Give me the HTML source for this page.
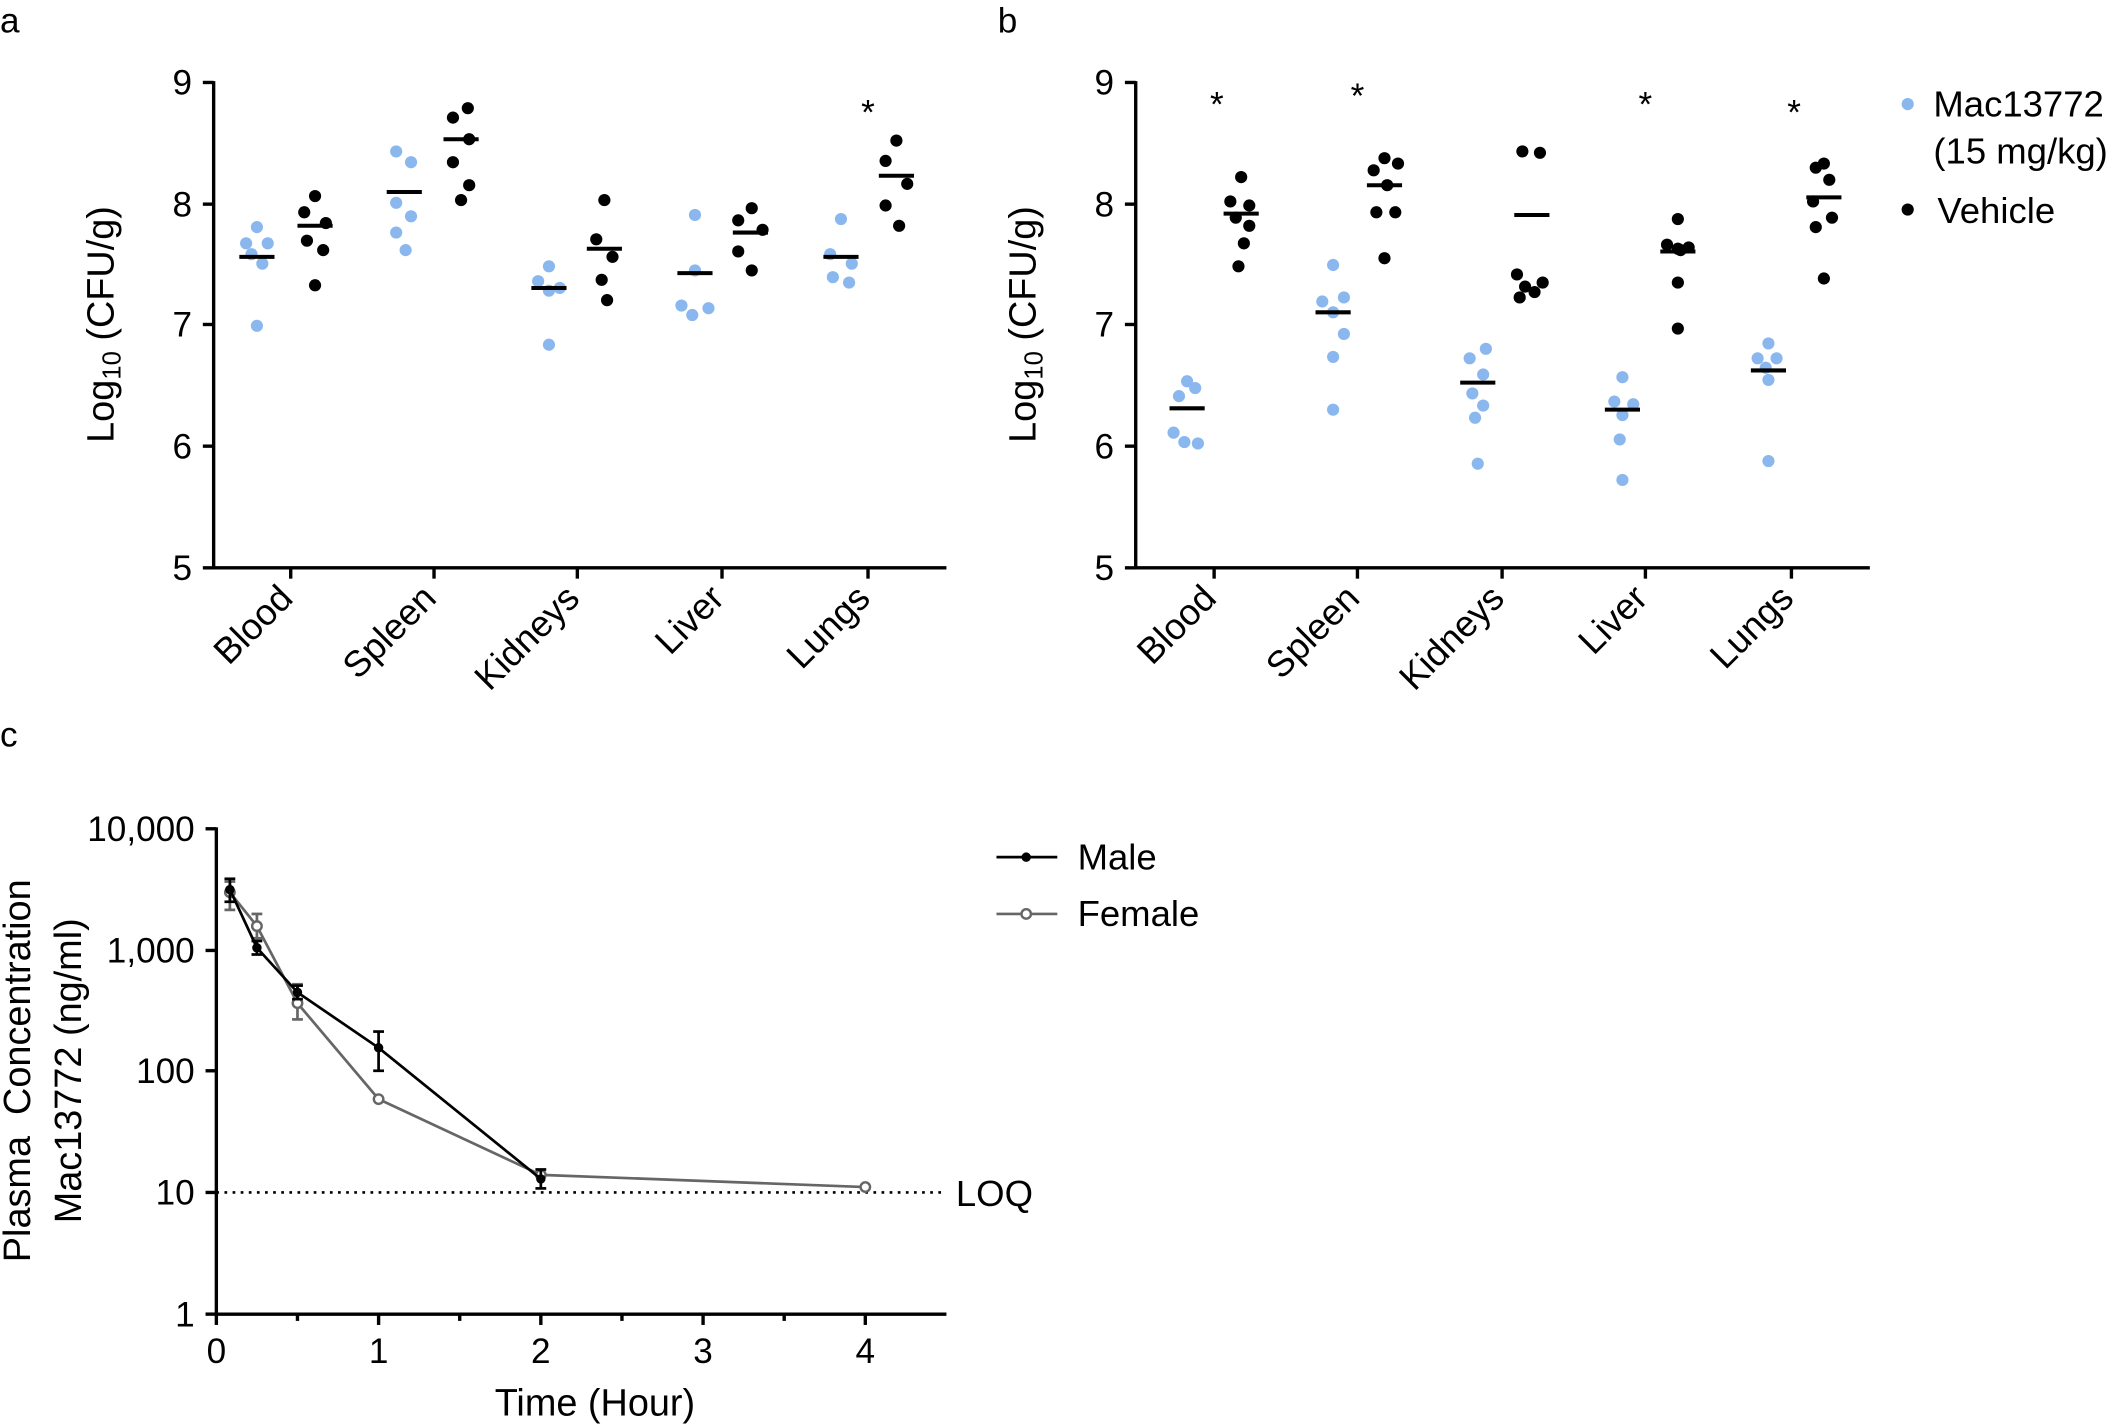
<!DOCTYPE html>
<html><head><meta charset="utf-8"><style>
html,body{margin:0;padding:0;background:#fff}
svg{display:block}
text{font-family:"Liberation Sans",Arial,sans-serif;fill:#000}
</style></head><body>
<svg width="2120" height="1425" viewBox="0 0 1568 1054" xmlns="http://www.w3.org/2000/svg">
<g id="a">
<text x="0" y="24" font-size="26">a</text>
<g stroke="#000" stroke-width="2.5" fill="none">
<line x1="158" y1="60" x2="158" y2="421"/>
<line x1="157" y1="420" x2="700" y2="420"/>
<line x1="150" y1="61" x2="158" y2="61"/><line x1="150" y1="151" x2="158" y2="151"/><line x1="150" y1="240" x2="158" y2="240"/><line x1="150" y1="330" x2="158" y2="330"/><line x1="150" y1="420" x2="158" y2="420"/>
<line x1="215" y1="420" x2="215" y2="428"/><line x1="321" y1="420" x2="321" y2="428"/><line x1="427" y1="420" x2="427" y2="428"/><line x1="534" y1="420" x2="534" y2="428"/><line x1="642" y1="420" x2="642" y2="428"/>
</g>
<g font-size="26" text-anchor="end">
<text x="142" y="70">9</text><text x="142" y="160">8</text><text x="142" y="249">7</text><text x="142" y="339">6</text><text x="142" y="429">5</text>
</g>
<text transform="translate(84,240) rotate(-90)" font-size="28" text-anchor="middle">Log<tspan font-size="19" dy="5">10</tspan><tspan dy="-5"> (CFU/g)</tspan></text>
<g font-size="27" text-anchor="end">
<text transform="translate(218,444) rotate(-45)">Blood</text>
<text transform="translate(324,444) rotate(-45)">Spleen</text>
<text transform="translate(430,444) rotate(-45)">Kidneys</text>
<text transform="translate(537,444) rotate(-45)">Liver</text>
<text transform="translate(645,444) rotate(-45)">Lungs</text>
</g>
<text x="642" y="92" font-size="26" text-anchor="middle">*</text>
<g fill="#8ab8ee">
<circle cx="190" cy="168" r="4.5"/><circle cx="182" cy="180" r="4.5"/><circle cx="198" cy="180" r="4.5"/><circle cx="186" cy="188" r="4.5"/><circle cx="194" cy="195" r="4.5"/><circle cx="190" cy="241" r="4.5"/>
<circle cx="293" cy="112" r="4.5"/><circle cx="304" cy="120" r="4.5"/><circle cx="293" cy="150" r="4.5"/><circle cx="304" cy="160" r="4.5"/><circle cx="293" cy="172" r="4.5"/><circle cx="300" cy="185" r="4.5"/>
<circle cx="406" cy="197" r="4.5"/><circle cx="398" cy="208" r="4.5"/><circle cx="414" cy="213" r="4.5"/><circle cx="406" cy="215" r="4.5"/><circle cx="406" cy="255" r="4.5"/>
<circle cx="514" cy="159" r="4.5"/><circle cx="514" cy="200" r="4.5"/><circle cx="504" cy="226" r="4.5"/><circle cx="524" cy="228" r="4.5"/><circle cx="512" cy="233" r="4.5"/>
<circle cx="622" cy="162" r="4.5"/><circle cx="614" cy="188" r="4.5"/><circle cx="630" cy="195" r="4.5"/><circle cx="616" cy="205" r="4.5"/><circle cx="628" cy="209" r="4.5"/>
</g>
<g fill="#000">
<circle cx="233" cy="145" r="4.5"/><circle cx="225" cy="157" r="4.5"/><circle cx="241" cy="165" r="4.5"/><circle cx="227" cy="178" r="4.5"/><circle cx="239" cy="185" r="4.5"/><circle cx="233" cy="211" r="4.5"/>
<circle cx="346" cy="80" r="4.5"/><circle cx="335" cy="87" r="4.5"/><circle cx="347" cy="103" r="4.5"/><circle cx="335" cy="120" r="4.5"/><circle cx="347" cy="137" r="4.5"/><circle cx="341" cy="148" r="4.5"/>
<circle cx="447" cy="148" r="4.5"/><circle cx="441" cy="177" r="4.5"/><circle cx="453" cy="190" r="4.5"/><circle cx="445" cy="207" r="4.5"/><circle cx="449" cy="222" r="4.5"/>
<circle cx="556" cy="154" r="4.5"/><circle cx="546" cy="163" r="4.5"/><circle cx="564" cy="170" r="4.5"/><circle cx="546" cy="186" r="4.5"/><circle cx="556" cy="200" r="4.5"/>
<circle cx="663" cy="104" r="4.5"/><circle cx="655" cy="119" r="4.5"/><circle cx="671" cy="136" r="4.5"/><circle cx="655" cy="152" r="4.5"/><circle cx="665" cy="167" r="4.5"/>
</g>
<g stroke="#000" stroke-width="3">
<line x1="177" y1="190" x2="203" y2="190"/><line x1="220" y1="167" x2="246" y2="167"/>
<line x1="286" y1="142" x2="312" y2="142"/><line x1="328" y1="103" x2="354" y2="103"/>
<line x1="393" y1="213" x2="419" y2="213"/><line x1="434" y1="184" x2="460" y2="184"/>
<line x1="501" y1="202" x2="527" y2="202"/><line x1="542" y1="172" x2="568" y2="172"/>
<line x1="609" y1="190" x2="635" y2="190"/><line x1="650" y1="130" x2="676" y2="130"/>
</g>
</g>

<g id="b">
<text x="738" y="24" font-size="26">b</text>
<g stroke="#000" stroke-width="2.5" fill="none">
<line x1="840" y1="60" x2="840" y2="421"/>
<line x1="839" y1="420" x2="1383" y2="420"/>
<line x1="832" y1="61" x2="840" y2="61"/><line x1="832" y1="151" x2="840" y2="151"/><line x1="832" y1="240" x2="840" y2="240"/><line x1="832" y1="330" x2="840" y2="330"/><line x1="832" y1="420" x2="840" y2="420"/>
<line x1="898" y1="420" x2="898" y2="428"/><line x1="1004" y1="420" x2="1004" y2="428"/><line x1="1111" y1="420" x2="1111" y2="428"/><line x1="1217" y1="420" x2="1217" y2="428"/><line x1="1325" y1="420" x2="1325" y2="428"/>
</g>
<g font-size="26" text-anchor="end">
<text x="824" y="70">9</text><text x="824" y="160">8</text><text x="824" y="249">7</text><text x="824" y="339">6</text><text x="824" y="429">5</text>
</g>
<text transform="translate(766,240) rotate(-90)" font-size="28" text-anchor="middle">Log<tspan font-size="19" dy="5">10</tspan><tspan dy="-5"> (CFU/g)</tspan></text>
<g font-size="27" text-anchor="end">
<text transform="translate(901,444) rotate(-45)">Blood</text>
<text transform="translate(1007,444) rotate(-45)">Spleen</text>
<text transform="translate(1114,444) rotate(-45)">Kidneys</text>
<text transform="translate(1220,444) rotate(-45)">Liver</text>
<text transform="translate(1328,444) rotate(-45)">Lungs</text>
</g>
<g font-size="26" text-anchor="middle">
<text x="900" y="86">*</text><text x="1004" y="80">*</text><text x="1217" y="86">*</text><text x="1327" y="92">*</text>
</g>
<g fill="#8ab8ee">
<circle cx="878" cy="282" r="4.5"/><circle cx="884" cy="287" r="4.5"/><circle cx="872" cy="293" r="4.5"/><circle cx="868" cy="320" r="4.5"/><circle cx="876" cy="327" r="4.5"/><circle cx="886" cy="328" r="4.5"/>
<circle cx="986" cy="196" r="4.5"/><circle cx="994" cy="220" r="4.5"/><circle cx="978" cy="223" r="4.5"/><circle cx="986" cy="231" r="4.5"/><circle cx="994" cy="247" r="4.5"/><circle cx="986" cy="264" r="4.5"/><circle cx="986" cy="303" r="4.5"/>
<circle cx="1099" cy="258" r="4.5"/><circle cx="1087" cy="265" r="4.5"/><circle cx="1097" cy="277" r="4.5"/><circle cx="1089" cy="291" r="4.5"/><circle cx="1097" cy="300" r="4.5"/><circle cx="1091" cy="309" r="4.5"/><circle cx="1093" cy="343" r="4.5"/>
<circle cx="1200" cy="279" r="4.5"/><circle cx="1194" cy="297" r="4.5"/><circle cx="1208" cy="299" r="4.5"/><circle cx="1200" cy="307" r="4.5"/><circle cx="1198" cy="325" r="4.5"/><circle cx="1200" cy="355" r="4.5"/>
<circle cx="1308" cy="254" r="4.5"/><circle cx="1300" cy="265" r="4.5"/><circle cx="1314" cy="265" r="4.5"/><circle cx="1306" cy="272" r="4.5"/><circle cx="1308" cy="281" r="4.5"/><circle cx="1308" cy="341" r="4.5"/>
</g>
<g fill="#000">
<circle cx="918" cy="131" r="4.5"/><circle cx="910" cy="149" r="4.5"/><circle cx="924" cy="152" r="4.5"/><circle cx="914" cy="161" r="4.5"/><circle cx="924" cy="167" r="4.5"/><circle cx="920" cy="180" r="4.5"/><circle cx="916" cy="197" r="4.5"/>
<circle cx="1024" cy="117" r="4.5"/><circle cx="1034" cy="121" r="4.5"/><circle cx="1016" cy="126" r="4.5"/><circle cx="1026" cy="137" r="4.5"/><circle cx="1018" cy="157" r="4.5"/><circle cx="1032" cy="157" r="4.5"/><circle cx="1024" cy="191" r="4.5"/>
<circle cx="1126" cy="112" r="4.5"/><circle cx="1139" cy="113" r="4.5"/><circle cx="1122" cy="203" r="4.5"/><circle cx="1141" cy="209" r="4.5"/><circle cx="1128" cy="212" r="4.5"/><circle cx="1135" cy="216" r="4.5"/><circle cx="1124" cy="220" r="4.5"/>
<circle cx="1241" cy="162" r="4.5"/><circle cx="1233" cy="181" r="4.5"/><circle cx="1249" cy="183" r="4.5"/><circle cx="1241" cy="184" r="4.5"/><circle cx="1243" cy="185" r="4.5"/><circle cx="1241" cy="209" r="4.5"/><circle cx="1241" cy="243" r="4.5"/>
<circle cx="1349" cy="121" r="4.5"/><circle cx="1343" cy="124" r="4.5"/><circle cx="1353" cy="133" r="4.5"/><circle cx="1341" cy="149" r="4.5"/><circle cx="1355" cy="161" r="4.5"/><circle cx="1343" cy="168" r="4.5"/><circle cx="1349" cy="206" r="4.5"/>
</g>
<g stroke="#000" stroke-width="3">
<line x1="865" y1="302" x2="891" y2="302"/><line x1="905" y1="158" x2="931" y2="158"/>
<line x1="973" y1="231" x2="999" y2="231"/><line x1="1011" y1="137" x2="1037" y2="137"/>
<line x1="1080" y1="283" x2="1106" y2="283"/><line x1="1120" y1="159" x2="1146" y2="159"/>
<line x1="1187" y1="303" x2="1213" y2="303"/><line x1="1228" y1="186" x2="1254" y2="186"/>
<line x1="1295" y1="274" x2="1321" y2="274"/><line x1="1336" y1="146" x2="1362" y2="146"/>
</g>
<circle cx="1411" cy="77" r="4.5" fill="#8ab8ee"/>
<text x="1430" y="86" font-size="27">Mac13772</text>
<text x="1430" y="121" font-size="27">(15 mg/kg)</text>
<circle cx="1411" cy="155" r="4.5" fill="#000"/>
<text x="1433" y="165" font-size="27">Vehicle</text>
</g>

<g id="c">
<text x="0" y="552" font-size="26">c</text>
<g stroke="#000" stroke-width="2.5" fill="none">
<line x1="160" y1="612" x2="160" y2="973"/>
<line x1="159" y1="972" x2="700" y2="972"/>
<line x1="152" y1="613" x2="160" y2="613"/><line x1="152" y1="703" x2="160" y2="703"/><line x1="152" y1="792" x2="160" y2="792"/><line x1="152" y1="882" x2="160" y2="882"/><line x1="152" y1="972" x2="160" y2="972"/>
<line x1="160" y1="972" x2="160" y2="980"/><line x1="280" y1="972" x2="280" y2="980"/><line x1="400" y1="972" x2="400" y2="980"/><line x1="520" y1="972" x2="520" y2="980"/><line x1="640" y1="972" x2="640" y2="980"/>
<line x1="220" y1="972" x2="220" y2="977"/><line x1="340" y1="972" x2="340" y2="977"/><line x1="460" y1="972" x2="460" y2="977"/><line x1="580" y1="972" x2="580" y2="977"/>
</g>
<g font-size="26" text-anchor="end">
<text x="144" y="622">10,000</text><text x="144" y="712">1,000</text><text x="144" y="801">100</text><text x="144" y="891">10</text><text x="144" y="981">1</text>
</g>
<g font-size="26" text-anchor="middle">
<text x="160" y="1008">0</text><text x="280" y="1008">1</text><text x="400" y="1008">2</text><text x="520" y="1008">3</text><text x="640" y="1008">4</text>
</g>
<text x="440" y="1047" font-size="28" text-anchor="middle">Time (Hour)</text>
<text transform="translate(22,792) rotate(-90)" font-size="28" text-anchor="middle" xml:space="preserve">Plasma  Concentration</text>
<text transform="translate(60,792) rotate(-90)" font-size="28" text-anchor="middle">Mac13772 (ng/ml)</text>
<line x1="160" y1="882" x2="700" y2="882" stroke="#000" stroke-width="2" stroke-dasharray="2,4"/>
<text x="707" y="892" font-size="27">LOQ</text>
<g stroke="#666" stroke-width="2" fill="none">
<polyline points="170,660 190,685 220,742 280,813 400,869 640,878"/>
<line x1="190" y1="676" x2="190" y2="694"/><line x1="186" y1="676" x2="194" y2="676"/><line x1="186" y1="694" x2="194" y2="694"/>
<line x1="220" y1="728" x2="220" y2="754"/><line x1="216" y1="728" x2="224" y2="728"/><line x1="216" y1="754" x2="224" y2="754"/>
<line x1="170" y1="652" x2="170" y2="673"/><line x1="166" y1="652" x2="174" y2="652"/><line x1="166" y1="673" x2="174" y2="673"/>
</g>
<g fill="#fff" stroke="#666" stroke-width="1.8">
<circle cx="170" cy="660" r="3.5"/><circle cx="190" cy="685" r="3.5"/><circle cx="220" cy="742" r="3.5"/><circle cx="280" cy="813" r="3.5"/><circle cx="400" cy="869" r="3.5"/><circle cx="640" cy="878" r="3.5"/>
</g>
<g stroke="#000" stroke-width="2" fill="none">
<polyline points="170,658 190,701 220,734 280,775 400,872"/>
<line x1="170" y1="650" x2="170" y2="667"/><line x1="166" y1="650" x2="174" y2="650"/><line x1="166" y1="667" x2="174" y2="667"/>
<line x1="190" y1="696" x2="190" y2="706"/><line x1="186" y1="696" x2="194" y2="696"/><line x1="186" y1="706" x2="194" y2="706"/>
<line x1="220" y1="729" x2="220" y2="739"/><line x1="216" y1="729" x2="224" y2="729"/><line x1="216" y1="739" x2="224" y2="739"/>
<line x1="280" y1="763" x2="280" y2="792"/><line x1="276" y1="763" x2="284" y2="763"/><line x1="276" y1="792" x2="284" y2="792"/>
<line x1="400" y1="865" x2="400" y2="879"/><line x1="396" y1="865" x2="404" y2="865"/><line x1="396" y1="879" x2="404" y2="879"/>
</g>
<g fill="#000">
<circle cx="170" cy="658" r="3.5"/><circle cx="190" cy="701" r="3.5"/><circle cx="220" cy="734" r="3.5"/><circle cx="280" cy="775" r="3.5"/><circle cx="400" cy="872" r="3.5"/>
</g>
<line x1="737" y1="634" x2="782" y2="634" stroke="#000" stroke-width="2"/>
<circle cx="759" cy="634" r="3.5" fill="#000"/>
<text x="797" y="643" font-size="27">Male</text>
<line x1="737" y1="676" x2="782" y2="676" stroke="#666" stroke-width="2"/>
<circle cx="759" cy="676" r="3.5" fill="#fff" stroke="#666" stroke-width="1.8"/>
<text x="797" y="685" font-size="27">Female</text>
</g>
</svg>
</body></html>
